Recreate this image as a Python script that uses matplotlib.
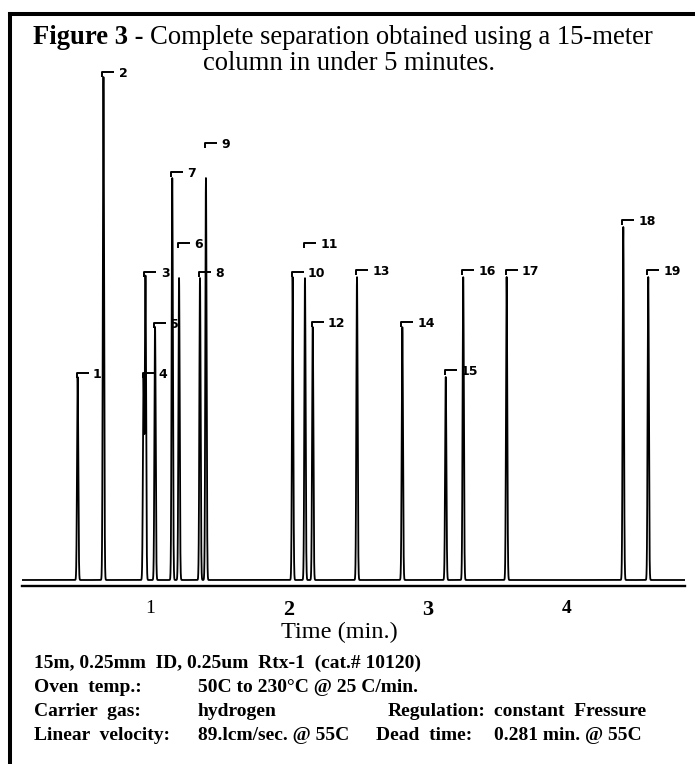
import numpy as np
import matplotlib.pyplot as plt
from matplotlib.path import Path
from matplotlib.lines import Line2D

# peaks (time in min, height in arbitrary detector units)
peak_ids = list(range(1, 20))
ret_times = [0.477, 0.663, 0.966, 0.952, 1.035, 1.208, 1.159, 1.359, 1.402,
             2.027, 2.116, 2.172, 2.491, 2.818, 3.131, 3.257, 3.570, 4.411, 4.591]
peak_heights = [203, 503, 303, 203, 253, 302, 402, 302, 402,
                303, 302, 253, 303, 253, 203, 303, 303, 353, 303]
label_heights = [207, 508, 308, 207, 257, 337, 408, 308, 437,
                 308, 337, 258, 310, 258, 210, 310, 310, 360, 310]

tick_pos = [1, 2, 3, 4]
tick_labels = ['1', '2', '3', '4']

W, H = 695, 764
fig = plt.figure(figsize=(W / 100, H / 100), dpi=100)
serif = 'Liberation Serif'

# axes box in pixels: x 22..685, y 60..586 (from top)
ax = fig.add_axes([22 / W, 1 - 586 / H, (685 - 22) / W, (586 - 60) / H])
xmin, xmax = 0.0757, 4.856
ax.set_xlim(xmin, xmax)
ax.set_ylim(-6, 520)

# chromatogram trace built from the peak list
t = np.linspace(xmin, xmax, 12000)
sig = 0.0045
trace = np.zeros_like(t)
for rt, h in zip(ret_times, peak_heights):
    trace += h * np.exp(-0.5 * ((t - rt) / sig) ** 2)
ax.plot(t, trace, color='black', lw=1.3)

# peak number labels with the little bracket
bracket = Path([(-0.12, -0.45), (-0.12, 0), (1, 0)],
               [Path.MOVETO, Path.LINETO, Path.LINETO])
ax.plot(ret_times, label_heights, ls='none', marker=bracket, ms=15.4,
        mec='black', mfc='none', mew=1.4, clip_on=False)
for pid, rt, lh in zip(peak_ids, ret_times, label_heights):
    ax.annotate(str(pid), (rt, lh), xytext=(11, -1.2), textcoords='offset points',
                ha='left', va='center', fontsize=9, fontweight='bold',
                family='DejaVu Sans')

for s in ['top', 'right', 'left']:
    ax.spines[s].set_visible(False)
ax.spines['bottom'].set_linewidth(1.7)
ax.set_yticks([])
ax.set_xticks(tick_pos)
ax.set_xticklabels(tick_labels)
ax.tick_params(axis='x', length=0, pad=10)
for lab, size, weight in zip(ax.get_xticklabels(), [14, 16, 16, 14],
                             ['normal', 'bold', 'bold', 'bold']):
    lab.set_family(serif)
    lab.set_fontsize(size)
    lab.set_fontweight(weight)

fig.text(339 / W, 1 - 632 / H, 'Time (min.)', ha='center', va='center',
         family=serif, fontsize=17.5)

# title: bold lead-in, then regular text right after it
lead = fig.text(33 / W, 1 - 38 / H, 'Figure 3 -', ha='left', va='center',
                family=serif, fontsize=19.2, fontweight='bold')
fig.canvas.draw()
lead_end = lead.get_window_extent().x1 / W
fig.text(lead_end + 6 / W, 1 - 38 / H, 'Complete separation obtained using a 15-meter',
         ha='left', va='center', family=serif, fontsize=19.2)
fig.text(203 / W, 1 - 64 / H, 'column in under 5 minutes.',
         ha='left', va='center', family=serif, fontsize=19.2)

# conditions block
rows = [
    (663, [(34, '15m, 0.25mm  ID, 0.25um  Rtx-1  (cat.# 10120)')]),
    (688, [(34, 'Oven  temp.:'), (198, '50C to 230°C @ 25 C/min.')]),
    (712, [(34, 'Carrier  gas:'), (198, 'hydrogen'), (388, 'Regulation:'),
           (494, 'constant  Fressure')]),
    (736, [(34, 'Linear  velocity:'), (198, '89.lcm/sec. @ 55C'),
           (376, 'Dead  time:'), (494, '0.281 min. @ 55C')]),
]
for y, parts in rows:
    for x, txt in parts:
        fig.text(x / W, 1 - y / H, txt, ha='left', va='center', family=serif,
                 fontsize=14, fontweight='bold')

# frame (left and top edges only, as in the scan)
fig.add_artist(Line2D([10.3 / W, 10.3 / W], [0, 1 - 13.7 / H], color='black',
                      lw=2.9, solid_capstyle='projecting'))
fig.add_artist(Line2D([10.3 / W, 1], [1 - 13.7 / H, 1 - 13.7 / H], color='black',
                      lw=2.9, solid_capstyle='projecting'))

fig.savefig('out.png', dpi=100)
